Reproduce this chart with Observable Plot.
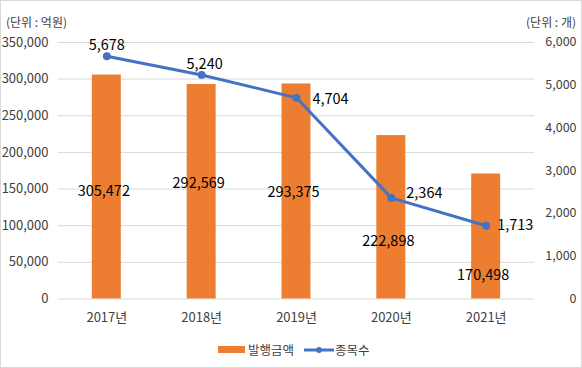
<!DOCTYPE html>
<html><head><meta charset="utf-8">
<script src="https://cdn.jsdelivr.net/npm/d3@7"></script>
<script src="https://cdn.jsdelivr.net/npm/@observablehq/plot@0.6"></script>
<style>
html,body{margin:0;padding:0;background:#fff;}
#wrap{position:relative;width:582px;height:368px;box-sizing:border-box;border:1px solid #d9d9d9;overflow:hidden;font-family:"Noto Sans CJK KR","Noto Sans",sans-serif;color:#404040;}
#chart{position:absolute;left:-1px;top:-1px;}
.unit{position:absolute;top:12px;font-size:12px;color:#404040;}
.leg{position:absolute;top:339px;font-size:12.5px;color:#404040;display:flex;align-items:center;}
</style></head>
<body>
<div id="wrap">
  <div id="chart"></div>
  <div class="unit" style="left:5px">(단위 : 억원)</div>
  <div class="unit" style="right:5px">(단위 : 개)</div>
  <div class="leg" style="left:217px"><span style="display:inline-block;width:27px;height:7px;background:#ED7D31;margin-right:3px"></span>발행금액</div>
  <div class="leg" style="left:303px"><svg width="30" height="10" style="margin-right:1px"><line x1="0" y1="5" x2="30" y2="5" stroke="#4472C4" stroke-width="3"/><circle cx="15" cy="5" r="3" fill="#4472C4"/></svg>종목수</div>
</div>
<script>
const years = ["2017년","2018년","2019년","2020년","2021년"];
const amounts = [305472, 292569, 293375, 222898, 170498];   // 발행금액 (억원)
const counts = [5678, 5240, 4704, 2364, 1713];               // 종목수 (개)
const amountLabelAt = [147000, 158000, 145500, 79000, 32700]; // where Excel placed bar labels (억원)
const leftTicks = [0, 50000, 100000, 150000, 200000, 250000, 300000, 350000];
const rightTicks = [0, 1000, 2000, 3000, 4000, 5000, 6000];

const factor = 350000 / 6000;
const data = years.map((y, i) => ({year: y, amount: amounts[i], count: counts[i], cy: counts[i] * factor, labelAt: amountLabelAt[i], i}));
const fmt = d3.format(",");
// label placement for the line labels (style, not data)
const lineLabelStyle = [
  {textAnchor: "middle", dx: 0, dy: -11},
  {textAnchor: "middle", dx: 3, dy: -11},
  {textAnchor: "start", dx: 16, dy: 2},
  {textAnchor: "start", dx: 15, dy: -5},
  {textAnchor: "start", dx: 11, dy: 0}
];

const chart = Plot.plot({
  width: 582, height: 368,
  marginLeft: 58, marginRight: 47, marginTop: 42, marginBottom: 69,
  style: {fontFamily: '"Noto Sans CJK KR","Noto Sans",sans-serif', color: "#404040", background: "transparent"},
  x: {domain: years, paddingInner: 0.69, paddingOuter: 0.345, label: null},
  y: {domain: [0, 350000], label: null},
  marks: [
    Plot.gridY(leftTicks, {stroke: "#d9d9d9", strokeOpacity: 1, strokeWidth: 1}),
    Plot.axisY(leftTicks, {anchor: "left", tickSize: 0, tickPadding: 10, tickFormat: fmt, fontSize: 13, label: null, fill: "#404040"}),
    Plot.axisY(rightTicks.map(d => d * factor), {anchor: "right", tickSize: 0, tickPadding: 0, dx: 42, textAnchor: "end", tickFormat: d => fmt(Math.round(d / factor)), fontSize: 12.5, label: null, fill: "#404040"}),
    Plot.axisX({tickSize: 0, tickPadding: 14, fontSize: 13, label: null, fill: "#404040"}),
    Plot.barY(data, {x: "year", y: "amount", fill: "#ED7D31"}),
    Plot.text(data, {x: "year", y: "labelAt", text: d => fmt(d.amount), fontSize: 14.5, fill: "#000", dx: -3}),
    Plot.line(data, {x: "year", y: "cy", stroke: "#4472C4", strokeWidth: 3}),
    Plot.dot(data, {x: "year", y: "cy", r: 3.2, fill: "#4472C4", stroke: "#4472C4"}),
    ...data.map((d, k) => Plot.text([d], {x: "year", y: "cy", text: e => fmt(e.count), fontSize: 14.5, fill: "#000", ...lineLabelStyle[k]}))
  ]
});
document.getElementById("chart").appendChild(chart);
</script>
</body></html>
